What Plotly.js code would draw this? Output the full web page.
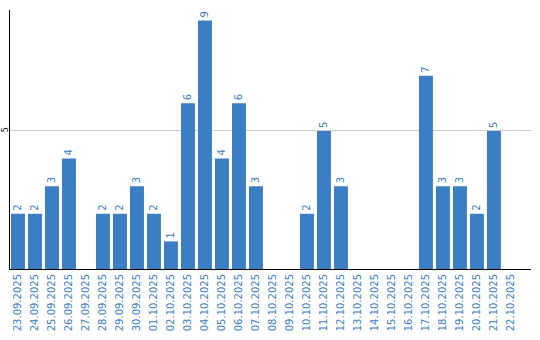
<!DOCTYPE html>
<html>
<head>
<meta charset="utf-8">
<script src="https://cdn.plot.ly/plotly-3.0.1.min.js"></script>
<style>html,body{margin:0;padding:0;background:#fff;}#chart{width:540px;height:340px;}</style>
</head>
<body>
<div id="chart"></div>
<script>
var dates = ["23.09.2025","24.09.2025","25.09.2025","26.09.2025","27.09.2025","28.09.2025","29.09.2025","30.09.2025","01.10.2025","02.10.2025","03.10.2025","04.10.2025","05.10.2025","06.10.2025","07.10.2025","08.10.2025","09.10.2025","10.10.2025","11.10.2025","12.10.2025","13.10.2025","14.10.2025","15.10.2025","16.10.2025","17.10.2025","18.10.2025","19.10.2025","20.10.2025","21.10.2025","22.10.2025"];
var counts = [2,2,3,4,0,2,2,3,2,1,6,9,4,6,3,0,0,2,5,3,0,0,0,0,7,3,3,2,5,0];
var yTicks = [5];

var blue = "#3b7ec3";
var labels = counts.map(function(v){ return v > 0 ? String(v) : ""; });

Plotly.newPlot("chart", [{
  type: "bar",
  x: dates,
  y: counts,
  marker: {color: blue},
  text: labels,
  textposition: "outside",
  textangle: -90,
  cliponaxis: false,
  textfont: {family: "DejaVu Sans", size: 10, color: blue},
  hoverinfo: "none"
}], {
  width: 540, height: 340,
  margin: {l: 10, r: 9, t: 10, b: 71, pad: 0},
  paper_bgcolor: "#fff", plot_bgcolor: "#fff",
  bargap: 0.18,
  showlegend: false,
  xaxis: {
    type: "category",
    range: [-0.47, 30.18],
    tickangle: -90,
    tickfont: {family: "DejaVu Sans", size: 10, color: blue},
    showline: true, linecolor: "#000", linewidth: 1,
    showgrid: false, zeroline: false, ticks: "", fixedrange: true
  },
  yaxis: {
    range: [0, 9.38],
    tickvals: yTicks,
    ticktext: yTicks.map(String),
    tickangle: -90,
    ticklabelstandoff: -2,
    tickfont: {family: "DejaVu Sans", size: 8, color: "#000"},
    showline: true, linecolor: "#000", linewidth: 1,
    showgrid: true, gridcolor: "#cccccc", gridwidth: 1,
    zeroline: false, ticks: "", fixedrange: true
  }
}, {displayModeBar: false, staticPlot: true});
</script>
</body>
</html>
